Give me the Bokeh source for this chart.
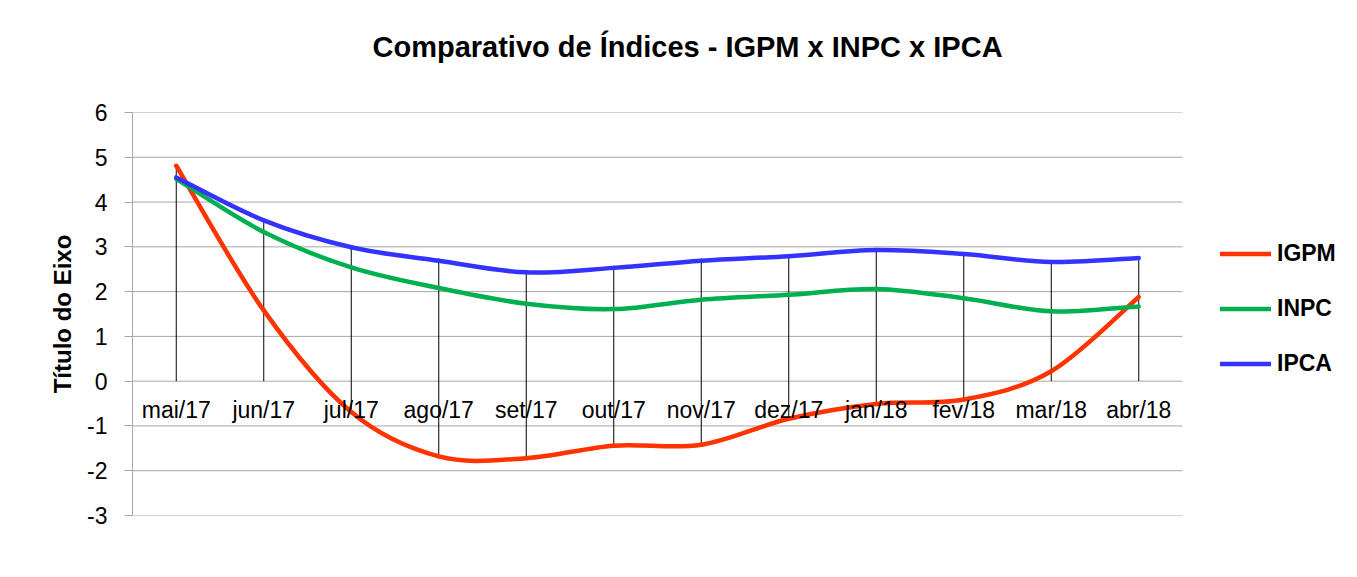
import numpy as np
from bokeh.plotting import figure
from bokeh.models import Range1d, FixedTicker, Legend, LegendItem, Title
from bokeh.embed import file_html
from bokeh.resources import INLINE

months = ["mai/17", "jun/17", "jul/17", "ago/17", "set/17", "out/17",
          "nov/17", "dez/17", "jan/18", "fev/18", "mar/18", "abr/18"]
igpm = [4.81, 1.58, -0.69, -1.68, -1.72, -1.44, -1.42, -0.84, -0.51, -0.41, 0.22, 1.88]
inpc = [4.52, 3.33, 2.54, 2.08, 1.73, 1.61, 1.82, 1.93, 2.06, 1.85, 1.56, 1.67]
ipca = [4.55, 3.59, 2.99, 2.69, 2.43, 2.53, 2.69, 2.79, 2.93, 2.84, 2.66, 2.75]
series_names = ["IGPM", "INPC", "IPCA"]
colors = ["#FF3300", "#00B050", "#3333FF"]
y_ticks = [-3, -2, -1, 0, 1, 2, 3, 4, 5, 6]
y_tick_labels = ["-3", "-2", "-1", "0", "1", "2", "3", "4", "5", "6"]

FONT = "Liberation Sans"
GRID = "#a6a6a6"

W, H = 1341, 561
FL, FT, FB = 132, 112, 515          # frame left / top / bottom on the page
PX_PER_CAT = 87.5
x_lo = -0.5
x_hi = 11.5 + (W - 1182) / PX_PER_CAT   # extra room on the right for the legend

p = figure(width=W, height=H, output_backend="svg", toolbar_location=None,
           x_range=Range1d(x_lo, x_hi), y_range=Range1d(-3, 6),
           min_border_left=FL, min_border_right=0, min_border_top=FT,
           min_border_bottom=H - FB)
p.outline_line_color = None
p.background_fill_color = "white"
p.border_fill_color = "white"

# spacer between title and plot area
p.add_layout(Title(text=" ", text_font_size="1px", standoff=47), "above")

p.title.text = "Comparativo de Índices - IGPM x INPC x IPCA"
p.title.text_font = FONT
p.title.text_font_size = "29px"
p.title.text_font_style = "bold"
p.title.text_color = "black"
p.title.align = "left"
p.title.offset = 240
p.title.standoff = 0

x = np.arange(len(months))

# y axis
ya = p.yaxis[0]
ya.ticker = FixedTicker(ticks=y_ticks)
ya.major_label_overrides = {t: s for t, s in zip(y_ticks, y_tick_labels)}
ya.axis_line_color = GRID
ya.major_tick_line_color = GRID
ya.major_tick_out = 8
ya.major_tick_in = 0
ya.minor_tick_line_color = None
ya.major_label_standoff = 17
ya.major_label_text_font = FONT
ya.major_label_text_font_size = "23px"
ya.major_label_text_color = "black"
ya.axis_label = "Título do Eixo"
ya.axis_label_text_font = FONT
ya.axis_label_text_font_size = "24px"
ya.axis_label_text_font_style = "bold"
ya.axis_label_text_color = "black"
ya.axis_label_standoff = 8

# x axis at y = 0
xa = p.xaxis[0]
xa.fixed_location = 0
xa.ticker = FixedTicker(ticks=list(x))
xa.major_label_overrides = {int(i): m for i, m in zip(x, months)}
xa.axis_line_color = None
xa.major_tick_line_color = None
xa.minor_tick_line_color = None
xa.major_tick_in = 0
xa.major_tick_out = 0
xa.major_label_standoff = 16
xa.major_label_text_font = FONT
xa.major_label_text_font_size = "23px"
xa.major_label_text_color = "black"

p.xgrid.grid_line_color = None
p.ygrid.grid_line_color = None

# horizontal gridlines over the plot area only
p.segment(x0=[x_lo] * len(y_ticks), y0=y_ticks, x1=[11.5] * len(y_ticks), y1=y_ticks,
          line_color=GRID, line_width=1)

# drop lines (from highest point down to lowest point / axis)
allv = np.array([igpm, inpc, ipca])
top = np.maximum(allv.max(axis=0), 0)
bot = np.minimum(allv.min(axis=0), 0)
p.segment(x0=x, y0=bot, x1=x, y1=top, line_color="black", line_width=1)

# smoothed lines (Bezier, Catmull-Rom style control points)
items = []
for name, vals, col in zip(series_names, [igpm, inpc, ipca], colors):
    v = np.array(vals, dtype=float)
    xs = x.astype(float)
    n = len(v)
    xp = np.concatenate([[xs[0]], xs, [xs[-1]]])
    vp = np.concatenate([[v[0]], v, [v[-1]]])
    x0 = xs[:-1]; y0 = v[:-1]; x1 = xs[1:]; y1 = v[1:]
    cx0 = xs[:-1] + (xp[2:n + 1] - xp[0:n - 1]) / 6.0
    cy0 = v[:-1] + (vp[2:n + 1] - vp[0:n - 1]) / 6.0
    cx1 = xs[1:] - (xp[3:n + 2] - xp[1:n]) / 6.0
    cy1 = v[1:] - (vp[3:n + 2] - vp[1:n]) / 6.0
    r = p.bezier(x0=x0, y0=y0, x1=x1, y1=y1, cx0=cx0, cy0=cy0, cx1=cx1, cy1=cy1,
                 line_color=col, line_width=4.5, line_cap="round")
    items.append(LegendItem(label=name, renderers=[r]))

legend = Legend(items=items, location=(1220 - FL, FB - 377))
legend.label_text_font = FONT
legend.label_text_font_size = "23px"
legend.label_text_font_style = "bold"
legend.label_text_color = "black"
legend.glyph_width = 51
legend.glyph_height = 27
legend.label_height = 27
legend.label_standoff = 6
legend.spacing = 28
legend.padding = 0
legend.margin = 0
legend.border_line_color = None
legend.background_fill_alpha = 0
p.add_layout(legend, "center")

open("out.html", "w").write(file_html(p, INLINE))
